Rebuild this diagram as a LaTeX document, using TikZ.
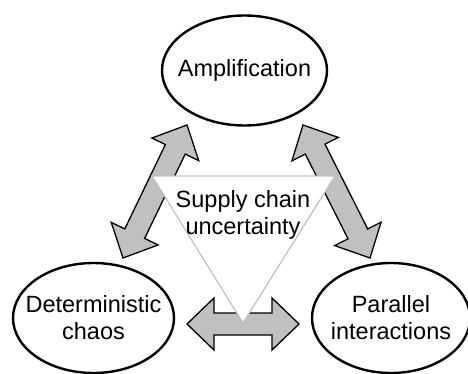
\documentclass[tikz,border=0pt]{standalone}
\usepackage{fontspec}
\setmainfont{Liberation Sans}
\usetikzlibrary{shapes,calc}
\definecolor{arrowgray}{RGB}{192,192,192}
\definecolor{trigray}{RGB}{192,192,192}

\begin{document}
\begin{tikzpicture}[x=1pt,y=1pt]
\tikzstyle{every node} = [font=\fontsize{23.5}{27}\selectfont, align=center]
\tikzstyle{factor} = [draw, ellipse, line width=2.4pt, inner sep=0pt, minimum height=110pt]
\tikzstyle{fatarrow} = [draw, fill=arrowgray, line width=1.3pt, to path={
  (\tikztostart) -- ($(\tikztostart)!27pt!(\tikztotarget)!26pt!90:(\tikztotarget)$)
  -- ($(\tikztostart)!27pt!(\tikztotarget)!11pt!90:(\tikztotarget)$)
  -- ($(\tikztotarget)!27pt!(\tikztostart)!11pt!-90:(\tikztostart)$)
  -- ($(\tikztotarget)!27pt!(\tikztostart)!26pt!-90:(\tikztostart)$)
  -- (\tikztotarget)
  -- ($(\tikztotarget)!27pt!(\tikztostart)!26pt!90:(\tikztostart)$)
  -- ($(\tikztotarget)!27pt!(\tikztostart)!11pt!90:(\tikztostart)$)
  -- ($(\tikztostart)!27pt!(\tikztotarget)!11pt!-90:(\tikztotarget)$)
  -- ($(\tikztostart)!27pt!(\tikztotarget)!26pt!-90:(\tikztotarget)$)
  -- cycle}]

\useasboundingbox (0,0) rectangle (468,373);
\clip (0,0) rectangle (468,373);

% the three factors
\node[factor, minimum width=165pt, label={center:Amplification}] (amp) at (244.5,302.5) {};
\node[factor, minimum width=161pt, label={center:Deterministic\\chaos}] (chaos) at (93.5,55) {};
\node[factor, minimum width=158pt, label={center:Parallel\\interactions}] (par) at (391,55) {};

% arrow ends
\coordinate (l1) at (187,248);
\coordinate (l2) at (123,115);
\coordinate (r1) at (303,248);
\coordinate (r2) at (370,115);
\coordinate (b1) at (187,49);
\coordinate (b2) at (299,49);

\draw[fatarrow] (l1) to (l2);
\draw[fatarrow] (r1) to (r2);
\draw[fatarrow] (b1) to (b2);

% centre triangle
\draw[trigray, fill=white, line width=1.2pt] (152,197) -- (335,197) -- (243,50) -- cycle;
\node (unc) at (243,158) {Supply chain\\uncertainty};

\end{tikzpicture}
\end{document}
